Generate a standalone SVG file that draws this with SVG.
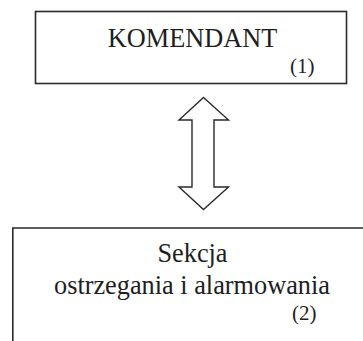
<svg xmlns="http://www.w3.org/2000/svg" width="363" height="341" viewBox="0 0 363 341">
<style>
.box{fill:none;stroke:#2a2a2a;stroke-width:1.6}
.arrow{fill:#ffffff;stroke:#2a2a2a;stroke-width:1.4;stroke-linejoin:miter}
.t{font-family:"Liberation Serif","Times New Roman",serif;fill:#1e1e1e}
.big{font-size:26.3px}
.num{font-size:21px}
</style>
<rect width="363" height="341" fill="#ffffff"/>
<g id="node-komendant">
<rect class="box" x="35.5" y="11.5" width="311" height="72"/>
<text class="t big" x="192.5" y="47" text-anchor="middle">KOMENDANT</text>
<text class="t num" x="290" y="72.5">(1)</text>
</g>
<g id="connectors">
<polygon class="arrow" points="203.5,97.5 228.5,120 214,120 214,187 228.5,187 203.5,209.5 179,187 192,187 192,120 179,120"/>
</g>
<g id="node-sekcja">
<path class="box" d="M12.8,341 V228 H363"/>
<text class="t big" x="192.5" y="262" text-anchor="middle">Sekcja</text>
<text class="t big" x="192" y="294" text-anchor="middle">ostrzegania i alarmowania</text>
<text class="t num" x="292" y="320">(2)</text>
</g>
</svg>
